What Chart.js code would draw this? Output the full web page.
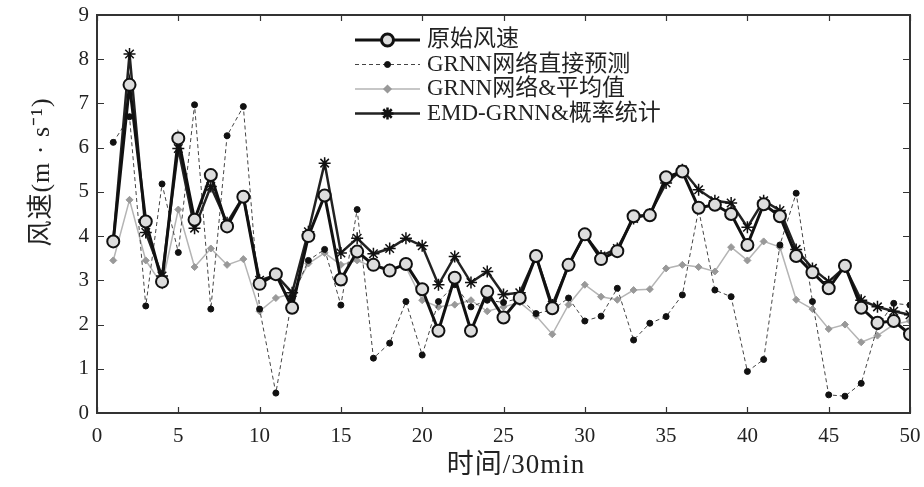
<!DOCTYPE html>
<html>
<head>
<meta charset="utf-8">
<script src="https://cdn.jsdelivr.net/npm/chart.js@4.4.0/dist/chart.umd.min.js"></script>
<style>
  html, body { margin: 0; padding: 0; background: #fff; }
  #wrap { width: 924px; height: 487px; }
</style>
</head>
<body>
<div id="wrap"><canvas id="myChart" width="924" height="487"></canvas></div>
<script>
// time steps (30 min each)
const times = [1, 2, 3, 4, 5, 6, 7, 8, 9, 10,
  11, 12, 13, 14, 15, 16, 17, 18, 19, 20,
  21, 22, 23, 24, 25, 26, 27, 28, 29, 30,
  31, 32, 33, 34, 35, 36, 37, 38, 39, 40,
  41, 42, 43, 44, 45, 46, 47, 48, 49, 50]

const seriesNames = ['原始风速', 'GRNN网络直接预测', 'GRNN网络&平均值', 'EMD-GRNN&概率统计']

const original = [3.88, 7.42, 4.33, 2.97, 6.21, 4.37, 5.38, 4.22, 4.89, 2.92,
  3.14, 2.38, 4.0, 4.92, 3.02, 3.65, 3.35, 3.22, 3.37, 2.8,
  1.86, 3.06, 1.86, 2.74, 2.16, 2.6, 3.55, 2.37, 3.35, 4.04,
  3.48, 3.66, 4.45, 4.47, 5.33, 5.46, 4.64, 4.71, 4.5, 3.8,
  4.72, 4.45, 3.55, 3.18, 2.82, 3.33, 2.38, 2.04, 2.08, 1.78]

const grnnDirect = [6.12, 6.7, 2.42, 5.18, 3.63, 6.97, 2.35, 6.27, 6.93, 2.35,
  0.45, 2.6, 3.45, 3.7, 2.44, 4.6, 1.24, 1.58, 2.52, 1.31,
  2.52, 2.9, 2.4, 2.55, 2.5, 2.6, 2.25, 2.33, 2.6, 2.08,
  2.19, 2.82, 1.65, 2.03, 2.18, 2.67, 4.6, 2.78, 2.63, 0.94,
  1.21, 3.8, 4.97, 2.52, 0.41, 0.38, 0.67, 1.95, 2.48, 2.44]

const grnnMean = [3.45, 4.82, 3.45, 2.9, 4.6, 3.3, 3.72, 3.35, 3.48, 2.3,
  2.6, 2.7, 3.38, 3.62, 3.35, 3.45, 3.3, 3.3, 3.3, 2.55,
  2.4, 2.45, 2.55, 2.3, 2.4, 2.5, 2.2, 1.78, 2.45, 2.9,
  2.63, 2.56, 2.78, 2.8, 3.27, 3.35, 3.3, 3.2, 3.75, 3.45,
  3.88, 3.75, 2.56, 2.35, 1.9, 2.0, 1.6, 1.75, 2.0, 2.08]

const emdGrnn = [3.9, 8.12, 4.08, 3.1, 5.98, 4.18, 5.12, 4.3, 4.9, 3.0,
  3.12, 2.72, 4.1, 5.65, 3.62, 3.95, 3.6, 3.72, 3.95, 3.78,
  2.9, 3.54, 2.95, 3.2, 2.68, 2.72, 3.54, 2.44, 3.33, 4.03,
  3.55, 3.72, 4.4, 4.5, 5.2, 5.5, 5.05, 4.8, 4.75, 4.2,
  4.8, 4.58, 3.7, 3.27, 2.97, 3.3, 2.55, 2.4, 2.3, 2.22]

const xTicks = [0, 5, 10, 15, 20, 25, 30, 35, 40, 45, 50]
const yTicks = [0, 1, 2, 3, 4, 5, 6, 7, 8, 9]

const xTitle = '时间/30min'
const yTitle = '风速(m · s⁻¹)'

const serifFont = '"Liberation Serif", "Noto Sans CJK SC", serif'

const toPoints = (values) => times.map((t, i) => ({ x: t, y: values[i] }))

// frame, inward ticks, axis titles and legend drawn on top of the chart
const framePlugin = {
  id: 'frame',
  afterDraw(chart) {
    const { ctx, chartArea, scales } = chart
    const { left, right, top, bottom } = chartArea
    ctx.save()
    ctx.strokeStyle = '#333'
    ctx.lineWidth = 2
    ctx.strokeRect(left, top, right - left, bottom - top)

    ctx.lineWidth = 1.2
    ctx.beginPath()
    xTicks.forEach(v => {
      const px = Math.round(scales.x.getPixelForValue(v)) + 0.5
      ctx.moveTo(px, bottom); ctx.lineTo(px, bottom - 6)
      ctx.moveTo(px, top); ctx.lineTo(px, top + 6)
    })
    yTicks.forEach(v => {
      const py = Math.round(scales.y.getPixelForValue(v)) + 0.5
      ctx.moveTo(left, py); ctx.lineTo(left + 7, py)
      ctx.moveTo(right, py); ctx.lineTo(right - 7, py)
    })
    ctx.stroke()

    ctx.fillStyle = '#222'
    ctx.textAlign = 'center'
    ctx.textBaseline = 'middle'

    // x axis title
    ctx.font = '27px ' + serifFont
    ctx.letterSpacing = '1px'
    ctx.fillText(xTitle, 516, 466)

    // y axis title
    ctx.font = '26px ' + serifFont
    ctx.translate(42, 172)
    ctx.rotate(-Math.PI / 2)
    ctx.fillText(yTitle, 0, 0)
    ctx.restore()

    // legend inside the plot
    ctx.save()
    const lx0 = 355, lx1 = 420, ly0 = 40, lstep = 24.5
    chart.data.datasets.forEach((ds, i) => {
      const y = ly0 + i * lstep
      ctx.strokeStyle = ds.borderColor
      ctx.lineWidth = ds.borderWidth
      ctx.setLineDash(ds.borderDash || [])
      ctx.beginPath()
      ctx.moveTo(lx0, y); ctx.lineTo(lx1, y)
      ctx.stroke()
      ctx.setLineDash([])
      ctx.fillStyle = ds.pointBackgroundColor
      ctx.strokeStyle = ds.pointBorderColor
      Chart.helpers.drawPoint(ctx, {
        pointStyle: ds.pointStyle,
        radius: ds.pointRadius,
        rotation: 0,
        borderWidth: ds.pointBorderWidth
      }, (lx0 + lx1) / 2, y)
      ctx.fillStyle = '#222'
      ctx.font = '23px ' + serifFont
      ctx.textAlign = 'left'
      ctx.textBaseline = 'middle'
      ctx.fillText(ds.label, 427, y)
    })
    ctx.restore()
  }
}

const ctx = document.getElementById('myChart')
new Chart(ctx, {
  type: 'line',
  data: {
    datasets: [
      {
        label: seriesNames[0],
        data: toPoints(original),
        borderColor: '#111',
        borderWidth: 3,
        pointStyle: 'circle',
        pointRadius: 6,
        pointBorderWidth: 2,
        pointBorderColor: '#111',
        pointBackgroundColor: '#ddd',
        order: 1
      },
      {
        label: seriesNames[1],
        data: toPoints(grnnDirect),
        borderColor: '#444',
        borderWidth: 1,
        borderDash: [4, 3],
        pointStyle: 'circle',
        pointRadius: 3,
        pointBorderWidth: 1,
        pointBorderColor: '#111',
        pointBackgroundColor: '#111',
        order: 3
      },
      {
        label: seriesNames[2],
        data: toPoints(grnnMean),
        borderColor: '#b4b4b4',
        borderWidth: 1.5,
        pointStyle: 'rectRot',
        pointRadius: 3.5,
        pointBorderWidth: 1,
        pointBorderColor: '#999',
        pointBackgroundColor: '#999',
        order: 4
      },
      {
        label: seriesNames[3],
        data: toPoints(emdGrnn),
        borderColor: '#222',
        borderWidth: 2.5,
        pointStyle: 'star',
        pointRadius: 6,
        pointBorderWidth: 1.5,
        pointBorderColor: '#111',
        pointBackgroundColor: '#111',
        order: 2
      }
    ]
  },
  options: {
    responsive: false,
    animation: false,
    events: [],
    layout: { padding: { top: 15, right: 14, left: 0, bottom: 0 } },
    plugins: {
      legend: { display: false },
      tooltip: { enabled: false }
    },
    scales: {
      x: {
        type: 'linear',
        min: 0,
        max: 50,
        afterFit: scale => {
          scale.height = 74
          scale.paddingLeft = 0
          scale.paddingRight = 0
        },
        afterBuildTicks: scale => { scale.ticks = xTicks.map(v => ({ value: v })) },
        grid: { display: false, drawTicks: false },
        border: { display: false },
        ticks: {
          padding: 11,
          color: '#222',
          font: { family: serifFont, size: 21 }
        }
      },
      y: {
        type: 'linear',
        min: 0,
        max: 9,
        afterFit: scale => {
          scale.width = 97
          scale.paddingTop = 0
          scale.paddingBottom = 0
        },
        afterBuildTicks: scale => { scale.ticks = yTicks.map(v => ({ value: v })) },
        grid: { display: false, drawTicks: false },
        border: { display: false },
        ticks: {
          padding: 8,
          color: '#222',
          font: { family: serifFont, size: 21 }
        }
      }
    }
  },
  plugins: [framePlugin]
})
</script>
</body>
</html>
